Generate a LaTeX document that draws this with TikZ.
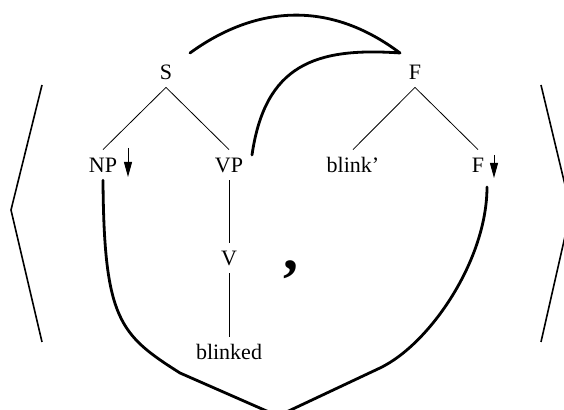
\documentclass[tikz,border=0pt]{standalone}
\usepackage{fontspec}
\setmainfont{Liberation Serif}
\usetikzlibrary{arrows.meta, positioning}

\begin{document}
\begin{tikzpicture}[x=0.5pt, y=0.5pt,
		lbl/.style={font=\fontsize{11}{13}\selectfont, inner xsep=1pt, inner ysep=3.75pt, text height=7.5pt, text depth=0pt},
		branch/.style={line width=0.4pt},
		foot/.style={-{Triangle[length=7.5pt,width=4pt]}, line width=0.5pt},
		link/.style={line width=1.4pt, line cap=round, line join=round},
		angle/.style={line width=0.8pt}]
			\clip (0,0) rectangle (564,410);
			\node[lbl] (S) at (166,338) {S};
			\node[lbl] (NP) at (103,245) {NP};
			\node[lbl] (VP) at (229,245) {VP};
			\node[lbl] (V) at (229,152) {V};
			\node[lbl] (blinked) at (229,58) {blinked};
			\node[lbl] (F) at (415,338) {F};
			\node[lbl] (blink) at (353,245) {blink'};
			\node[lbl] (Fsub) at (478,245) {F};
			\node[font=\fontsize{30}{30}\selectfont\bfseries] (comma) at (291,140) {,};
			\draw[branch] (S.south) -- (NP.north);
			\draw[branch] (S.south) -- (VP.north);
			\draw[branch] (VP.south) -- (V.north);
			\draw[branch] (V.south) -- (blinked.north);
			\draw[branch] (F.south) -- (blink.north);
			\draw[branch] (F.south) -- (Fsub.north);
			\draw[foot] ([shift={(25,17)}]NP.center) -- ([shift={(25,-12)}]NP.center);
			\draw[foot] ([shift={(16,10)}]Fsub.center) -- ([shift={(16,-13)}]Fsub.center);
			\coordinate (tip) at ([shift={(-15,19)}]F.center);
			\draw[link] ([shift={(24,19)}]S.center) .. controls (245,397) and (320,417) .. (tip)
				.. controls (315,363) and (265,345) .. ([shift={(23,10)}]VP.center);
			\coordinate (low) at (278,-6);
			\draw[link] (NP.south) .. controls (104,90) and (120,75) .. (180,37) -- (low)
				-- (380,42) .. controls (430,66) and (487,150) .. ([shift={(9,-22)}]Fsub.center);
			\draw[angle] (42,325) -- (11,200) -- (42,68);
			\draw[angle] (541,325) -- (571,200) -- (541,68);
		\end{tikzpicture}
\end{document}
